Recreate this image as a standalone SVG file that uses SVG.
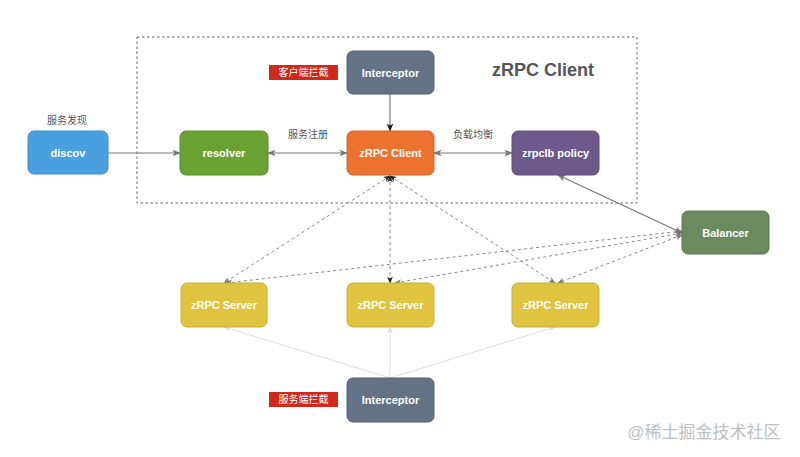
<svg xmlns="http://www.w3.org/2000/svg" width="800" height="457" viewBox="0 0 800 457">
<style>
.n text{font-family:"Liberation Sans",Arial,sans-serif;font-weight:bold;font-size:11px;fill:#fff;text-anchor:middle;dominant-baseline:central}
.n rect{stroke-width:1}
.lbl{font-family:"Liberation Sans","Noto Sans CJK SC",sans-serif;font-size:10px;fill:#555;text-anchor:middle;dominant-baseline:central}
.tag text{font-family:"Liberation Sans","Noto Sans CJK SC",sans-serif;font-size:10px;fill:#fff;text-anchor:middle;dominant-baseline:central}
.solid{stroke:#777;stroke-width:1.2;fill:none}
.dash{stroke:#888;stroke-width:1;stroke-dasharray:3,3;fill:none}
.light{stroke:#ddd;stroke-width:1;fill:none}
</style>
<defs>
<marker id="ah" viewBox="0 0 10 10" refX="9" refY="5" markerWidth="7" markerHeight="7" orient="auto-start-reverse"><path d="M0,1 L10,5 L0,9 L2.5,5 z" fill="#777"/></marker>
<marker id="ahk" viewBox="0 0 10 10" refX="9" refY="5" markerWidth="7" markerHeight="7" orient="auto-start-reverse"><path d="M0,1 L10,5 L0,9 L2.5,5 z" fill="#222"/></marker>
<marker id="ahl" viewBox="0 0 10 10" refX="9" refY="5" markerWidth="7" markerHeight="7" orient="auto-start-reverse"><path d="M0,1 L10,5 L0,9 L2.5,5 z" fill="#ddd"/></marker>
</defs>
<rect width="800" height="457" fill="#fff"/>
<rect id="container" x="137" y="37" width="500" height="166" fill="none" stroke="#666" stroke-width="1" stroke-dasharray="2.5,2.5"/>
<text x="543" y="70" font-family="Liberation Sans,Arial,sans-serif" font-weight="bold" font-size="18" fill="#555" text-anchor="middle" dominant-baseline="central">zRPC Client</text>
<g id="connectors">
<line class="solid" x1="108" y1="153" x2="180" y2="153" marker-end="url(#ah)"/>
<line class="solid" x1="268" y1="153" x2="347" y2="153" marker-start="url(#ah)" marker-end="url(#ah)"/>
<line class="solid" x1="434" y1="153" x2="512" y2="153" marker-start="url(#ah)" marker-end="url(#ah)"/>
<line class="solid" x1="390" y1="94" x2="390" y2="131" stroke="#555" marker-end="url(#ahk)"/>
<line class="solid" x1="558" y1="175" x2="682" y2="233" marker-start="url(#ah)" marker-end="url(#ah)"/>
<line class="dash" x1="390" y1="176" x2="224" y2="283" marker-start="url(#ahk)" marker-end="url(#ah)"/>
<line class="dash" x1="390" y1="176" x2="390" y2="283" stroke="#555" marker-start="url(#ahk)" marker-end="url(#ahk)"/>
<line class="dash" x1="390" y1="176" x2="555" y2="283" marker-start="url(#ahk)" marker-end="url(#ah)"/>
<line class="dash" x1="682" y1="231" x2="226" y2="283" marker-start="url(#ah)" marker-end="url(#ah)"/>
<line class="dash" x1="682" y1="233" x2="395" y2="283" marker-start="url(#ah)" marker-end="url(#ah)"/>
<line class="dash" x1="682" y1="235" x2="558" y2="283" marker-start="url(#ah)" marker-end="url(#ah)"/>
<line class="light" x1="390" y1="378" x2="224" y2="327" marker-end="url(#ahl)"/>
<line class="light" x1="390" y1="378" x2="390" y2="327" marker-end="url(#ahl)"/>
<line class="light" x1="390" y1="378" x2="555" y2="327" marker-end="url(#ahl)"/>
</g>
<text class="lbl" x="67" y="120">服务发现</text>
<text class="lbl" x="308" y="134">服务注册</text>
<text class="lbl" x="473" y="134">负载均衡</text>
<g id="tag-client" class="tag"><rect x="269" y="65" width="69" height="15" fill="#d0281c"/><text x="303.5" y="72.5">客户端拦截</text></g>
<g id="tag-server" class="tag"><rect x="269" y="392" width="69" height="15" fill="#d0281c"/><text x="303.5" y="399.5">服务端拦截</text></g>
<g id="interceptor-top" class="n"><rect x="347" y="51" width="87" height="43" rx="6" fill="#637285" stroke="#55606f"/><text x="390.5" y="73">Interceptor</text></g>
<g id="discov" class="n"><rect x="28" y="131" width="80" height="43" rx="6" fill="#4a9fdf" stroke="#3f8bc4"/><text x="68" y="153">discov</text></g>
<g id="resolver" class="n"><rect x="180" y="131" width="88" height="44" rx="6" fill="#6aa232" stroke="#5b8c2a"/><text x="224" y="153">resolver</text></g>
<g id="zrpc-client" class="n"><rect x="347" y="131" width="87" height="44" rx="6" fill="#ec7230" stroke="#d2632a"/><text x="390.5" y="153">zRPC Client</text></g>
<g id="zrpclb" class="n"><rect x="512" y="131" width="87" height="44" rx="6" fill="#6e5a8a" stroke="#5e4d77"/><text x="555.5" y="153">zrpclb policy</text></g>
<g id="balancer" class="n"><rect x="682" y="211" width="87" height="43" rx="6" fill="#6b8a5e" stroke="#5c7750"/><text x="725.5" y="233">Balancer</text></g>
<g id="server1" class="n"><rect x="181" y="283" width="86" height="44" rx="6" fill="#e0c43f" stroke="#c9ae35"/><text x="224" y="305">zRPC Server</text></g>
<g id="server2" class="n"><rect x="347" y="283" width="87" height="44" rx="6" fill="#e0c43f" stroke="#c9ae35"/><text x="390.5" y="305">zRPC Server</text></g>
<g id="server3" class="n"><rect x="512" y="283" width="87" height="44" rx="6" fill="#e0c43f" stroke="#c9ae35"/><text x="555.5" y="305">zRPC Server</text></g>
<g id="interceptor-bottom" class="n"><rect x="347" y="378" width="87" height="44" rx="6" fill="#637285" stroke="#55606f"/><text x="390.5" y="400">Interceptor</text></g>
<text x="704" y="432" font-family="Liberation Sans,Noto Sans CJK SC,sans-serif" font-size="17" fill="#c0c0c0" text-anchor="middle" dominant-baseline="central">@稀土掘金技术社区</text>
</svg>
